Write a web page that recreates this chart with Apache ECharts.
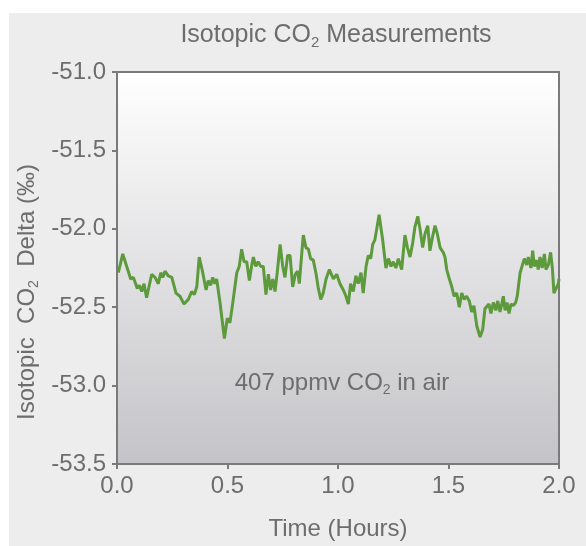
<!DOCTYPE html>
<html>
<head>
<meta charset="utf-8">
<script src="https://cdn.jsdelivr.net/npm/echarts@6/dist/echarts.min.js"></script>
<style>
html,body{margin:0;padding:0;background:#ffffff;}
#chart{width:586px;height:546px;}
</style>
</head>
<body>
<div id="chart"></div>
<script>
// Time (hours)
const times = [0.006,0.026,0.044,0.062,0.074,0.092,0.101,0.112,0.122,0.134,0.157,0.172,0.187,0.198,0.207,0.217,0.232,0.248,0.267,0.285,0.303,0.323,0.338,0.350,0.361,0.372,0.388,0.403,0.413,0.424,0.433,0.443,0.451,0.466,0.486,0.499,0.511,0.526,0.542,0.553,0.564,0.575,0.587,0.599,0.610,0.617,0.628,0.639,0.650,0.662,0.674,0.685,0.695,0.705,0.715,0.725,0.738,0.750,0.760,0.772,0.783,0.795,0.807,0.818,0.825,0.833,0.843,0.855,0.866,0.876,0.888,0.900,0.911,0.922,0.933,0.946,0.961,0.979,0.994,1.009,1.024,1.036,1.047,1.057,1.069,1.081,1.092,1.104,1.114,1.127,1.137,1.148,1.157,1.167,1.186,1.202,1.217,1.228,1.240,1.250,1.262,1.273,1.288,1.303,1.314,1.326,1.338,1.348,1.361,1.371,1.383,1.394,1.406,1.416,1.428,1.439,1.449,1.462,1.476,1.484,1.492,1.504,1.515,1.525,1.537,1.549,1.560,1.571,1.582,1.594,1.605,1.615,1.628,1.643,1.655,1.665,1.673,1.683,1.692,1.703,1.714,1.723,1.733,1.741,1.748,1.756,1.765,1.774,1.783,1.793,1.804,1.811,1.824,1.831,1.843,1.854,1.861,1.873,1.881,1.888,1.899,1.906,1.914,1.924,1.934,1.941,1.952,1.962,1.970,1.977,1.986,1.997,2.000];
// Isotopic CO2 delta (per mil)
const deltas = [-52.28,-52.16,-52.24,-52.32,-52.31,-52.38,-52.36,-52.40,-52.35,-52.44,-52.29,-52.31,-52.35,-52.28,-52.31,-52.27,-52.30,-52.31,-52.41,-52.43,-52.48,-52.45,-52.40,-52.42,-52.37,-52.18,-52.28,-52.39,-52.33,-52.36,-52.31,-52.35,-52.32,-52.47,-52.70,-52.57,-52.60,-52.45,-52.28,-52.24,-52.13,-52.21,-52.21,-52.33,-52.23,-52.18,-52.24,-52.21,-52.24,-52.24,-52.42,-52.29,-52.39,-52.32,-52.40,-52.28,-52.10,-52.24,-52.31,-52.17,-52.17,-52.37,-52.29,-52.27,-52.35,-52.21,-52.04,-52.12,-52.13,-52.19,-52.20,-52.28,-52.38,-52.45,-52.41,-52.32,-52.26,-52.32,-52.29,-52.35,-52.39,-52.43,-52.48,-52.35,-52.40,-52.30,-52.35,-52.28,-52.41,-52.24,-52.17,-52.19,-52.10,-52.07,-51.91,-52.07,-52.25,-52.19,-52.24,-52.21,-52.25,-52.19,-52.26,-52.04,-52.12,-52.18,-52.09,-51.99,-51.92,-52.00,-52.12,-52.03,-51.98,-52.14,-52.05,-51.98,-52.03,-52.12,-52.15,-52.18,-52.26,-52.32,-52.37,-52.43,-52.41,-52.50,-52.41,-52.45,-52.43,-52.46,-52.53,-52.49,-52.62,-52.69,-52.64,-52.51,-52.51,-52.48,-52.54,-52.47,-52.52,-52.46,-52.53,-52.48,-52.43,-52.52,-52.47,-52.54,-52.48,-52.49,-52.47,-52.43,-52.28,-52.27,-52.19,-52.23,-52.18,-52.25,-52.14,-52.24,-52.20,-52.26,-52.18,-52.25,-52.16,-52.26,-52.23,-52.15,-52.25,-52.41,-52.42,-52.35,-52.32];
const xTicks = [0.0, 0.5, 1.0, 1.5, 2.0];
const yTicks = [-53.5, -53.0, -52.5, -52.0, -51.5, -51.0];

const FONT = 'Liberation Sans, Arial, Helvetica, sans-serif';
const TXT = '#6d6d6d';
function gRich(size) {
  return {
    a: {fontSize: size, fill: TXT, fontFamily: FONT, fontWeight: 'normal', lineHeight: size + 5},
    s: {fontSize: Math.round(size * 0.6), fill: TXT, fontFamily: FONT, fontWeight: 'normal', lineHeight: Math.round(size * 0.6), verticalAlign: 'bottom'}
  };
}

const chart = echarts.init(document.getElementById('chart'), null, {renderer: 'canvas'});
chart.setOption({
  animation: false,
  backgroundColor: '#ededed',
  graphic: [
    {type: 'rect', left: 0, top: 0, z: -10, shape: {width: 586, height: 13}, style: {fill: '#ffffff'}},
    {type: 'rect', left: 0, top: 0, z: -10, shape: {width: 9, height: 546}, style: {fill: '#ffffff'}},
    {type: 'text', x: 336, y: 35, z: 10,
      style: {text: '{a|Isotopic CO}{s|2}{a| Measurements}', rich: gRich(25), align: 'center', verticalAlign: 'middle'}},
    {type: 'text', x: 342, y: 383, z: 10,
      style: {text: '{a|407 ppmv CO}{s|2}{a| in air}', rich: gRich(24), align: 'center', verticalAlign: 'middle'}},
    {type: 'text', x: 27, y: 292, z: 10, rotation: Math.PI / 2,
      style: {text: '{a|Isotopic  CO}{s|2}{a|  Delta (‰)}', rich: gRich(24), align: 'center', verticalAlign: 'middle'}}
  ],
  grid: {
    left: 117, right: 27, top: 72, bottom: 75,
    show: true,
    borderColor: '#7a7a7a', borderWidth: 2,
    backgroundColor: {
      type: 'linear', x: 0, y: 0, x2: 0, y2: 1,
      colorStops: [{offset: 0, color: '#ffffff'}, {offset: 1, color: '#c4c4c8'}]
    }
  },
  xAxis: {
    type: 'value', min: xTicks[0], max: xTicks[xTicks.length - 1], interval: 0.5,
    name: 'Time (Hours)', nameLocation: 'middle', nameGap: 53,
    nameTextStyle: {fontSize: 24, color: TXT, fontFamily: FONT},
    axisLine: {show: true, lineStyle: {color: '#7a7a7a', width: 2}},
    axisTick: {show: true, inside: false, length: 5, lineStyle: {color: '#7a7a7a', width: 2}},
    axisLabel: {fontSize: 24, color: TXT, fontFamily: FONT, margin: 10, formatter: v => v.toFixed(1)},
    splitLine: {show: false}
  },
  yAxis: {
    type: 'value', min: yTicks[0], max: yTicks[yTicks.length - 1], interval: 0.5,
    axisLine: {show: true, lineStyle: {color: '#7a7a7a', width: 2}},
    axisTick: {show: true, inside: false, length: 5, lineStyle: {color: '#7a7a7a', width: 2}},
    axisLabel: {fontSize: 24, color: TXT, fontFamily: FONT, margin: 11, formatter: v => v.toFixed(1)},
    splitLine: {show: false}
  },
  series: [{
    type: 'line',
    data: times.map((t, i) => [t, deltas[i]]),
    symbol: 'none',
    smooth: false,
    lineStyle: {color: '#5c9a3c', width: 3},
    z: 5
  }]
});
</script>
</body>
</html>
